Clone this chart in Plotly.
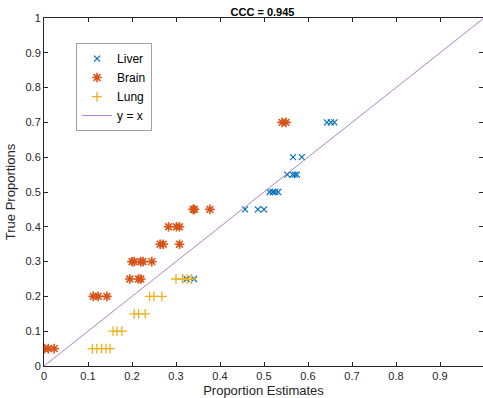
import plotly.graph_objects as go

# Proportion estimates (x) against true proportions (y) per tissue
liver_est = [0.643, 0.652, 0.66, 0.566, 0.586, 0.553, 0.565, 0.57, 0.575,
             0.513, 0.52, 0.525, 0.532, 0.457, 0.486, 0.5, 0.324, 0.341]
liver_true = [0.7, 0.7, 0.7, 0.6, 0.6, 0.55, 0.55, 0.55, 0.55,
              0.5, 0.5, 0.5, 0.5, 0.45, 0.45, 0.45, 0.25, 0.25]

brain_est = [0.541, 0.55, 0.339, 0.342, 0.377, 0.283, 0.301, 0.308,
             0.264, 0.271, 0.308, 0.2, 0.205, 0.22, 0.225, 0.245,
             0.195, 0.215, 0.22, 0.112, 0.123, 0.143, 0.001, 0.01, 0.023]
brain_true = [0.7, 0.7, 0.45, 0.45, 0.45, 0.4, 0.4, 0.4,
              0.35, 0.35, 0.35, 0.3, 0.3, 0.3, 0.3, 0.3,
              0.25, 0.25, 0.25, 0.2, 0.2, 0.2, 0.05, 0.05, 0.05]

lung_est = [0.30, 0.315, 0.325, 0.335, 0.24, 0.25, 0.268, 0.205, 0.215, 0.23,
            0.157, 0.166, 0.177, 0.11, 0.12, 0.131, 0.141, 0.15]
lung_true = [0.25, 0.25, 0.25, 0.25, 0.2, 0.2, 0.2, 0.15, 0.15, 0.15,
             0.1, 0.1, 0.1, 0.05, 0.05, 0.05, 0.05, 0.05]

identity = [0, 1]
x_ticks = [0, 0.1, 0.2, 0.3, 0.4, 0.5, 0.6, 0.7, 0.8, 0.9, 1]
y_ticks = [0, 0.1, 0.2, 0.3, 0.4, 0.5, 0.6, 0.7, 0.8, 0.9, 1]
ccc = 0.945

FONT = "Liberation Sans, Arial, Helvetica, sans-serif"
AX = "#262626"

fig = go.Figure()
fig.add_trace(go.Scatter(
    x=liver_est, y=liver_true, mode="markers", name="Liver",
    marker=dict(symbol="x-thin-open", size=6, color="#0072BD",
                line=dict(width=1.2, color="#0072BD"))))
fig.add_trace(go.Scatter(
    x=brain_est, y=brain_true, mode="markers", name="Brain",
    marker=dict(symbol="asterisk-open", size=8, color="#D95319",
                line=dict(width=1.6, color="#D95319"))))
fig.add_trace(go.Scatter(
    x=lung_est, y=lung_true, mode="markers", name="Lung",
    marker=dict(symbol="cross-thin-open", size=7, color="#EDB120",
                line=dict(width=1.3, color="#EDB120"))))
fig.add_trace(go.Scatter(
    x=identity, y=identity, mode="lines", name="y = x",
    line=dict(color="#B080C8", width=1)))

axis_common = dict(
    showgrid=False, zeroline=False, showline=True, linecolor=AX, linewidth=1,
    mirror="ticks", ticks="inside", ticklen=4, tickcolor=AX,
    tickfont=dict(family=FONT, size=11, color=AX),
)

fig.update_layout(
    width=483, height=398,
    margin=dict(l=44, r=0, t=18, b=32),
    paper_bgcolor="white", plot_bgcolor="white",
    font=dict(family=FONT, color=AX),
    title=dict(text=f"<b>CCC = {ccc}</b>", x=(44 + 481) / 2 / 483, xanchor="center",
               y=1 - 12 / 398, yanchor="middle", font=dict(size=11, color="black")),
    xaxis=dict(range=[0, 439 / 440], tickvals=x_ticks,
               ticktext=[f"{v:g}" for v in x_ticks],
               title=dict(text="Proportion Estimates", standoff=4,
                          font=dict(size=13, color=AX)),
               **axis_common),
    yaxis=dict(range=[0, 1], tickvals=y_ticks,
               ticktext=[f"{v:g}" for v in y_ticks],
               title=dict(text="True Proportions", standoff=6,
                          font=dict(size=13, color=AX)),
               **axis_common),
    legend=dict(x=0.073, y=0.928, xanchor="left", yanchor="top",
                bgcolor="white", bordercolor="#A0A0A0", borderwidth=1,
                font=dict(family=FONT, size=12, color="black"),
                itemwidth=30, tracegroupgap=0),
    showlegend=True,
)

fig.write_html("out.html")
